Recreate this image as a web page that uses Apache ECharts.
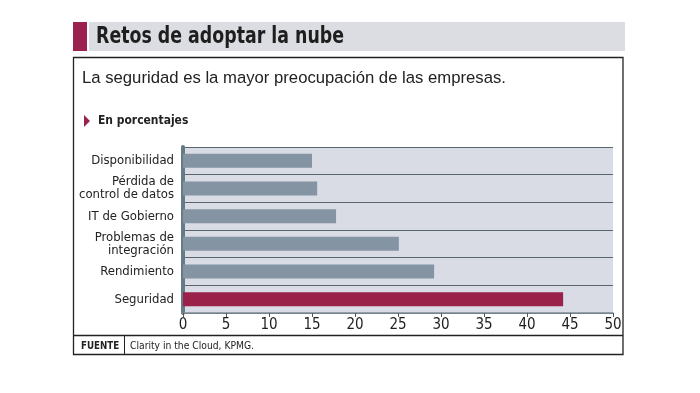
<!DOCTYPE html>
<html><head><meta charset="utf-8">
<script src="https://cdn.jsdelivr.net/npm/echarts@6/dist/echarts.min.js"></script>
<style>html,body{margin:0;padding:0;background:#fff}#c{width:700px;height:393px}</style>
</head><body><div id="c"></div>
<script>
const categories = ['Disponibilidad', 'Pérdida de\ncontrol de datos', 'IT de Gobierno', 'Problemas de\nintegración', 'Rendimiento', 'Seguridad'];
const values = [15, 15.6, 17.8, 25.1, 29.2, 44.2];
const highlight = 'Seguridad';
const xTicks = [0, 5, 10, 15, 20, 25, 30, 35, 40, 45, 50];
const titleText = 'Retos de adoptar la nube';
const subtitleText = 'La seguridad es la mayor preocupación de las empresas.';
const unitText = 'En porcentajes';
const sourceLabel = 'FUENTE';
const sourceText = 'Clarity in the Cloud, KPMG.';

const NARROW = '"DejaVu Sans Condensed", "Liberation Sans Narrow", sans-serif';
const SANS = '"Liberation Sans", Arial, sans-serif';
const chart = echarts.init(document.getElementById('c'), null, {renderer: 'canvas'});
chart.setOption({
  animation: false,
  backgroundColor: '#fff',
  graphic: [
    {type: 'rect', shape: {x: 73, y: 22, width: 14, height: 29}, style: {fill: '#9c2150'}},
    {type: 'rect', shape: {x: 89, y: 22, width: 536, height: 29}, style: {fill: '#dcdde3'}},
    {type: 'text', x: 96, y: 37.5, scaleX: 0.84, style: {text: titleText, font: 'bold 23px ' + NARROW, fill: '#1e1e1e', textVerticalAlign: 'middle'}},
    {type: 'rect', shape: {x: 73.5, y: 57.5, width: 549.5, height: 297}, style: {fill: 'none', stroke: '#222', lineWidth: 1.3}},
    {type: 'text', x: 82, y: 78, style: {text: subtitleText, font: '16.7px ' + SANS, fill: '#222', textVerticalAlign: 'middle'}},
    {type: 'polygon', shape: {points: [[84, 115], [90, 121], [84, 127]]}, style: {fill: '#9c2150'}},
    {type: 'text', x: 98, y: 121, scaleX: 0.92, style: {text: unitText, font: 'bold 13px ' + NARROW, fill: '#222', textVerticalAlign: 'middle'}},
    {type: 'line', shape: {x1: 73, y1: 335.5, x2: 623, y2: 335.5}, style: {stroke: '#222', lineWidth: 1.3}},
    {type: 'line', shape: {x1: 124.5, y1: 335.5, x2: 124.5, y2: 354.5}, style: {stroke: '#222', lineWidth: 1}},
    {type: 'text', x: 81, y: 346, scaleX: 0.88, style: {text: sourceLabel, font: 'bold 11px ' + NARROW, fill: '#222', textVerticalAlign: 'middle'}},
    {type: 'text', x: 130, y: 346, scaleX: 0.93, style: {text: sourceText, font: '11px ' + NARROW, fill: '#222', textVerticalAlign: 'middle'}}
  ],
  grid: {left: 183, right: 87, top: 147, bottom: 80, show: true, backgroundColor: '#d9dce4', borderWidth: 0},
  xAxis: {
    type: 'value', min: xTicks[0], max: xTicks[xTicks.length - 1], interval: xTicks[1] - xTicks[0],
    axisLine: {show: true, lineStyle: {color: '#7d8a94', width: 1.5}},
    axisTick: {show: true, length: 4, lineStyle: {color: '#555', width: 1}},
    splitLine: {show: false},
    axisLabel: {fontSize: 15, color: '#1e1e1e', fontFamily: NARROW, margin: 5}
  },
  yAxis: {
    type: 'category', data: categories, inverse: true,
    axisLine: {show: true, lineStyle: {color: '#667b88', width: 4}},
    axisTick: {show: false},
    splitLine: {show: true, lineStyle: {color: '#5b6770', width: 1}},
    axisLabel: {fontSize: 13, color: '#222', fontFamily: NARROW, lineHeight: 13, margin: 9, align: 'right'}
  },
  series: [{
    type: 'bar', barWidth: 14,
    data: values.map((v, i) => ({value: v, itemStyle: {color: categories[i] === highlight ? '#9a2149' : '#8494a2'}})),
    silent: true
  }]
});
</script></body></html>
